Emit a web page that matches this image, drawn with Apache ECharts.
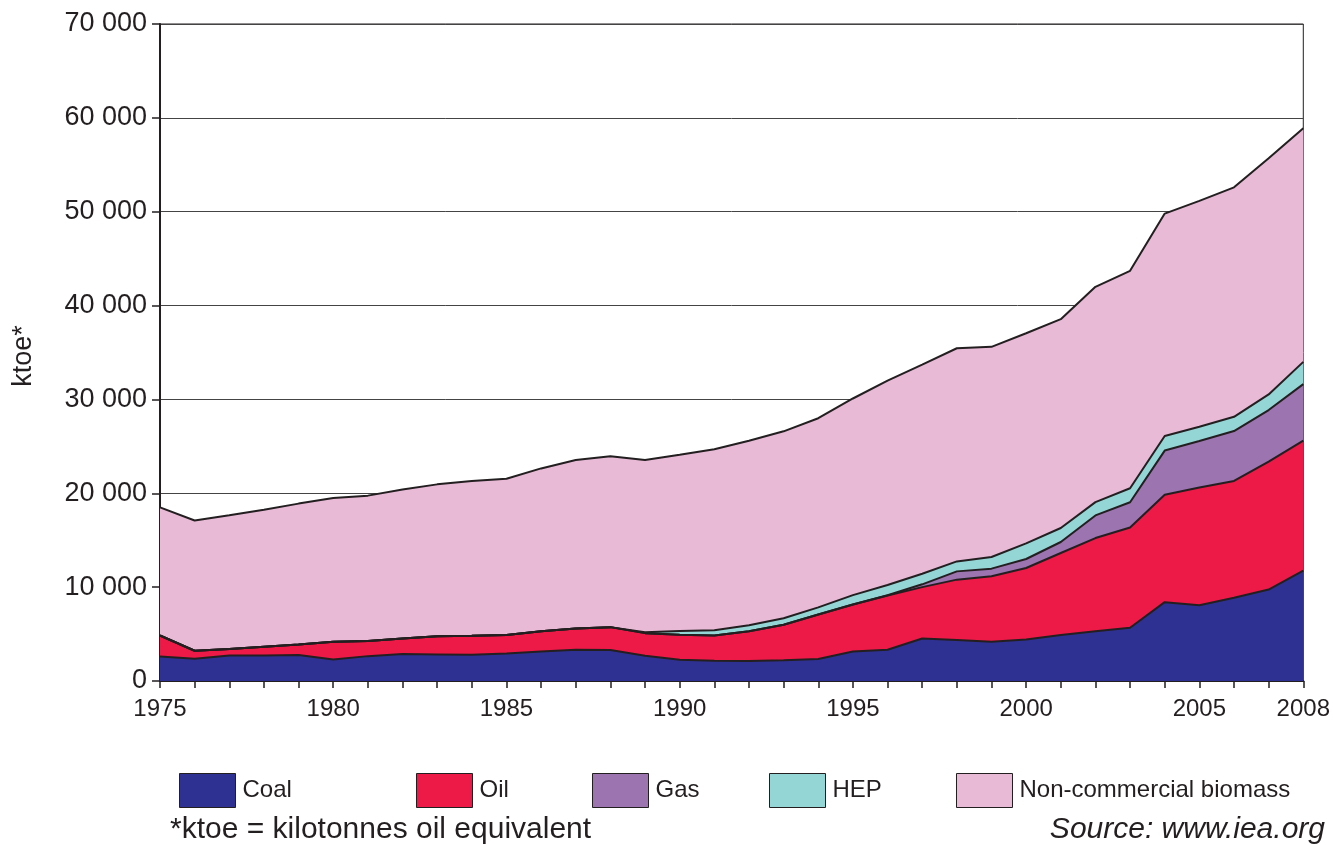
<!DOCTYPE html>
<html>
<head>
<meta charset="utf-8">
<script src="https://cdn.jsdelivr.net/npm/echarts@6/dist/echarts.min.js"></script>
<style>
html,body{margin:0;padding:0;background:#fff;}
#chart{width:1333px;height:845px;}
</style>
</head>
<body>
<div id="chart"></div>
<script>
const years = ['1975','1976','1977','1978','1979','1980','1981','1982','1983','1984','1985','1986','1987','1988','1989','1990','1991','1992','1993','1994','1995','1996','1997','1998','1999','2000','2001','2002','2003','2004','2005','2006','2007','2008'];
const labelYears = ['1975','1980','1985','1990','1995','2000','2005','2008'];
const yTicks = [0,10000,20000,30000,40000,50000,60000,70000];

const coal = [2620,2380,2720,2730,2760,2300,2650,2870,2830,2800,2940,3150,3330,3300,2700,2270,2160,2130,2200,2340,3150,3330,4520,4360,4180,4430,4890,5310,5670,8400,8080,8860,9740,11760];
const oil = [2230,840,680,920,1140,1880,1600,1660,1950,2020,1950,2150,2270,2440,2400,2650,2690,3180,3800,4740,5000,5770,5480,6440,6980,7610,8750,9920,10690,11440,12530,12460,13640,13850];
const gas = [0,0,0,0,0,0,0,0,0,0,0,0,0,0,0,0,0,0,0,0,0,30,300,880,810,960,1170,2410,2690,4710,4960,5310,5490,6020];
const hep = [0,0,0,0,0,0,0,0,0,0,0,0,0,0,100,400,550,640,680,760,1000,1100,1130,1060,1240,1660,1490,1420,1490,1560,1520,1520,1660,2370];
const biomass = [13650,13880,14250,14600,15000,15320,15500,15870,16170,16480,16660,17350,17950,18210,18350,18780,19300,19650,19920,20160,20950,21770,22270,22710,22390,22390,22250,22940,23160,23690,24060,24450,25170,24900];

const seriesNames = ['Coal','Oil','Gas','HEP','Non-commercial biomass'];
const seriesColors = ['#2e3192','#ed1946','#9b74b0','#94d6d6','#e8bad6'];
const seriesData = [coal, oil, gas, hep, biomass];

const FONT = '"Liberation Sans", Arial, Helvetica, sans-serif';
const INK = '#231f20';

const chart = echarts.init(document.getElementById('chart'), null, {renderer:'canvas'});

const legendLefts = [179, 416, 592, 769, 956];

const option = {
  animation: false,
  backgroundColor: '#fff',
  textStyle: {fontFamily: FONT, color: INK},
  grid: {left:160, right:29, top:24, bottom:164, show:true, borderColor:INK, borderWidth:1, backgroundColor:'transparent'},
  legend: seriesNames.map((n, i) => ({
    data: [n],
    left: legendLefts[i],
    top: 773,
    padding: 0,
    icon: 'rect',
    itemWidth: 56,
    itemHeight: 34,
    selectedMode: false,
    itemStyle: {borderColor: INK, borderWidth: 1},
    textStyle: {fontFamily: FONT, fontSize: 24, color: INK, padding: [0, 0, 0, 2]}
  })),
  xAxis: {
    type: 'category',
    data: years,
    boundaryGap: false,
    axisLine: {show:true, lineStyle:{color:INK, width:2}},
    axisTick: {show:true, interval:0, length:7, inside:false, lineStyle:{color:INK, width:1.5}},
    axisLabel: {
      interval: 0,
      margin: 16,
      fontSize: 24,
      fontFamily: FONT,
      color: INK,
      formatter: v => labelYears.indexOf(v) >= 0 ? v : ''
    },
    splitLine: {show:false}
  },
  yAxis: {
    type: 'value',
    min: yTicks[0],
    max: yTicks[yTicks.length-1],
    interval: 10000,
    axisLine: {show:true, lineStyle:{color:INK, width:2}},
    axisTick: {show:true, length:8, lineStyle:{color:INK, width:1.5}},
    axisLabel: {
      margin: 13,
      fontSize: 27,
      fontFamily: FONT,
      color: INK,
      formatter: v => String(v).replace(/\B(?=(\d{3})+(?!\d))/g, ' ')
    },
    splitLine: {show:true, lineStyle:{color:'#444', width:1}}
  },
  graphic: [
    {type:'text', x:24, y:356, rotation:Math.PI/2, style:{text:'ktoe*', font:'27px ' + FONT, fill:INK, textAlign:'center', textVerticalAlign:'middle'}},
    {type:'text', x:170, y:830, style:{text:'*ktoe = kilotonnes oil equivalent', font:'30px ' + FONT, fill:INK, textAlign:'left', textVerticalAlign:'middle'}},
    {type:'text', x:1325, y:830, style:{text:'Source: www.iea.org', font:'italic 30px ' + FONT, fill:INK, textAlign:'right', textVerticalAlign:'middle'}}
  ],
  series: seriesNames.map((n, i) => ({
    name: n,
    type: 'line',
    stack: 'total',
    data: seriesData[i],
    symbol: 'none',
    showSymbol: false,
    color: seriesColors[i],
    itemStyle: {color: seriesColors[i]},
    lineStyle: {color: INK, width: 2},
    areaStyle: {color: seriesColors[i], opacity: 1},
    z: 2
  }))
};
chart.setOption(option);
</script>
</body>
</html>
